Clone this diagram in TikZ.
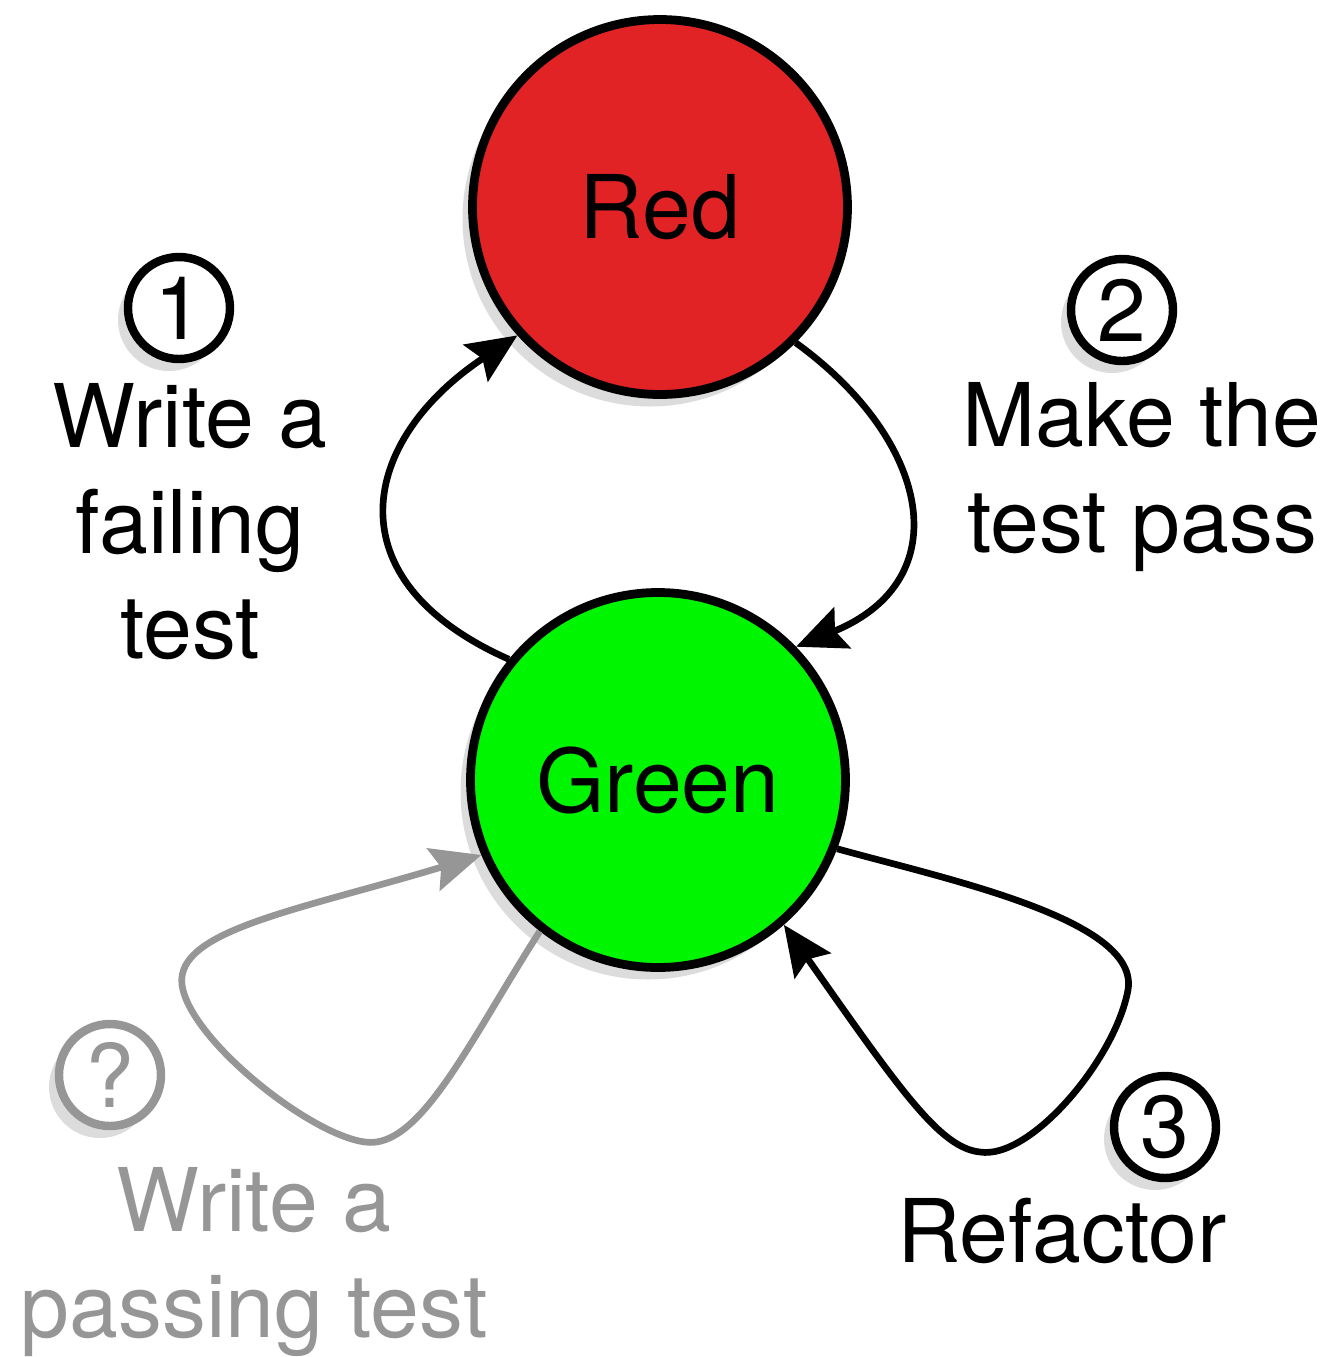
\documentclass[tikz,border=0pt]{standalone}
\usepackage{fontspec}
\setmainfont{TeX Gyre Heros}
\usetikzlibrary{arrows.meta,shadows}
\definecolor{tddred}{RGB}{226,35,38}
\definecolor{tddgreen}{RGB}{0,245,0}
\definecolor{tddgrey}{RGB}{150,150,150}

\begin{document}
\begin{tikzpicture}[x=0.1mm,y=-0.1mm,
  every node/.style={font=\fontsize{25}{30}\selectfont},
  soft shadow/.style={drop shadow={shadow xshift=-1mm,shadow yshift=-1.2mm,opacity=0.28}},
  state/.style={circle,draw,line width=2.5pt,minimum size=37.5mm,inner sep=0pt,soft shadow},
  num/.style={circle,draw,line width=2.4pt,fill=white,minimum size=10.2mm,inner sep=0pt,soft shadow},
  phase/.style={align=center},
  flow/.style={line width=1.9pt,-{Stealth[length=5mm,width=4.4mm,inset=0.8mm]}}]
\useasboundingbox (0,0) rectangle (1333,1357);
\node[state,fill=tddred] (red) at (660,207) {Red};
\node[state,fill=tddgreen] (green) at (658,780) {Green};
% numbered steps
\node[num] (n1) at (179,308) {1};
\node[num] (n2) at (1122,310) {2};
\node[num] (n3) at (1165,1127) {3};
\node[num,draw=tddgrey,text=tddgrey] (nq) at (110,1075) {?};
\node[phase] (t1) at (190,522) {Write a\\failing\\test};
\node[phase] (t2) at (1142,477) {Make the\\test pass};
\node[anchor=base] (t3) at (1062,1262) {Refactor};
\node[phase,text=tddgrey] (tq) at (254,1262) {Write a\\passing test};
% cycle
\draw[flow] (green.141) .. controls (330,580) and (360,440) .. (red.222);
\draw[flow] (red.315) .. controls (930,440) and (960,580) .. (green.44);
\draw[flow] (green.339) .. controls (950,880) and (1140,920) .. (1128,990)
  .. controls (1115,1060) and (1030,1160) .. (980,1152)
  .. controls (940,1148) and (900,1090) .. (green.311);
\draw[flow,draw=tddgrey] (green.232) .. controls (470,1040) and (420,1150) .. (365,1142)
  .. controls (310,1135) and (190,1040) .. (182,985)
  .. controls (175,930) and (300,910) .. (green.203);
\end{tikzpicture}
\end{document}
